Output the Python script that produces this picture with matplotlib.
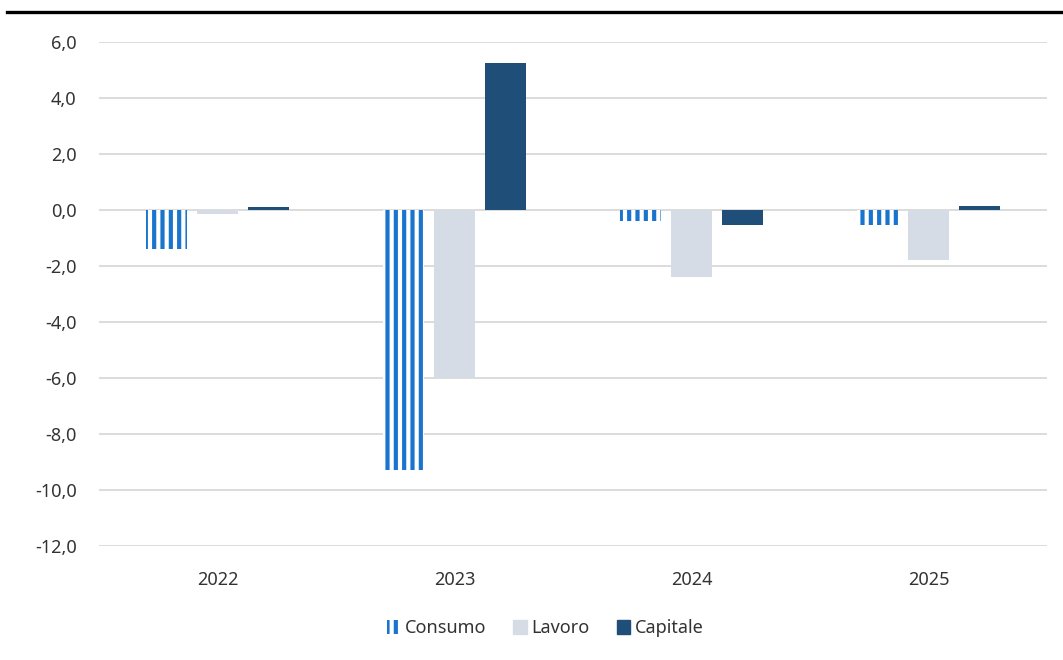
import numpy as np
import matplotlib
matplotlib.use('Agg')
import matplotlib.pyplot as plt
from matplotlib.lines import Line2D
import matplotlib.patches as mpatches

years    = ['2022', '2023', '2024', '2025']
consumo  = [-1.4, -9.3, -0.4, -0.55]
lavoro   = [-0.15, -6.0, -2.4, -1.8]
capitale = [0.1, 5.25, -0.55, 0.15]
yticks   = [6, 4, 2, 0, -2, -4, -6, -8, -10, -12]

c_cons = '#1874CD'
c_lav  = '#D6DCE5'
c_cap  = '#1F4E79'
c_txt  = '#333333'

plt.rcParams['font.family'] = ['Noto Sans', 'DejaVu Sans']
plt.rcParams['hatch.linewidth'] = 3.0

fig = plt.figure(figsize=(10.63, 6.60), dpi=100)
ax = fig.add_axes([0.093, 0.1727, 0.892, 0.7637])

x = np.arange(len(years))
w = 0.175
off = 0.215

ax.bar(x - off, consumo, w, facecolor='white', edgecolor=c_cons, hatch='||',
       linewidth=0, zorder=3)
ax.bar(x, lavoro, w, color=c_lav, linewidth=0, zorder=3)
ax.bar(x + off, capitale, w, color=c_cap, linewidth=0, zorder=3)

ax.set_xlim(-0.5, len(years) - 0.5)
ax.set_ylim(-12, 6)
ax.set_yticks(yticks)
ax.set_yticklabels([f'{v:.1f}'.replace('.', ',') for v in yticks])
ax.set_xticks(x)
ax.set_xticklabels(years)
ax.grid(axis='y', color='#D9D9D9', linewidth=1.3, zorder=0)
ax.set_axisbelow(True)
for s in ax.spines.values():
    s.set_visible(False)
ax.tick_params(length=0, labelsize=13, colors=c_txt)
ax.tick_params(axis='y', pad=16)
ax.tick_params(axis='x', pad=18)

handles = [
    mpatches.Patch(facecolor='white', edgecolor=c_cons, hatch='||', linewidth=0, label='Consumo'),
    mpatches.Patch(color=c_lav, label='Lavoro'),
    mpatches.Patch(color=c_cap, label='Capitale'),
]
fig.legend(handles=handles, loc='center', bbox_to_anchor=(0.513, 0.048), ncol=3,
           frameon=False, fontsize=13, handlelength=0.75, handleheight=0.75,
           handletextpad=0.25, columnspacing=1.5, labelcolor=c_txt)

fig.add_artist(Line2D([0.007, 1.0], [0.982, 0.982], color='black', linewidth=2.4,
                      transform=fig.transFigure))

fig.savefig('out.png', dpi=100)
